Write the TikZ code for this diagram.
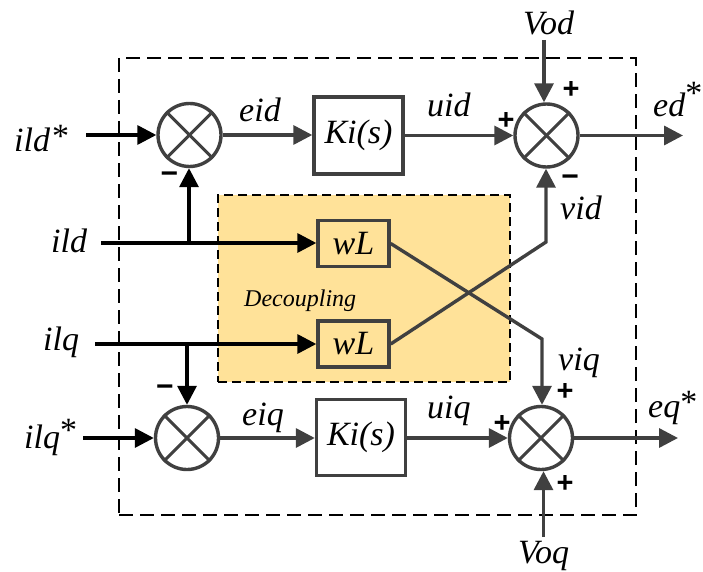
\documentclass[tikz,border=0pt]{standalone}
\usepackage{fontspec}
\setmainfont{Liberation Serif}
\newfontfamily\signfont{Liberation Sans}
\usetikzlibrary{arrows.meta,calc}
\definecolor{dgrey}{HTML}{404040}
\definecolor{yel}{HTML}{FFE299}
\newcommand{\upstar}[2]{\kern#1pt\raisebox{#2pt}{\upshape *}}
\tikzset{
  x=1pt,y=-1pt,
  sumnode/.style={circle,draw=dgrey,line width=3.4pt,minimum size=63pt,inner sep=0pt,fill=white},
  crossline/.style={dgrey,line width=3pt},
  gainbox/.style={rectangle,draw=dgrey,line width=3.4pt,inner sep=0pt,fill=white,font=\fontsize{34}{34}\selectfont\itshape},
  wlbox/.style={rectangle,draw=dgrey,line width=3.4pt,inner sep=0pt,fill=yel,minimum width=71pt,minimum height=46pt,font=\fontsize{34}{34}\selectfont\itshape},
  gline/.style={dgrey,line width=3.4pt,line join=miter,-{Triangle[length=19pt,width=19pt]}},
  kline/.style={black,line width=3.4pt,-{Triangle[length=19pt,width=19pt]}},
  lab/.style={font=\fontsize{34}{34}\selectfont\itshape,inner sep=0pt,text=black,anchor=base west},
  smalllab/.style={font=\fontsize{24}{24}\selectfont\itshape,inner sep=0pt,text=black,anchor=base west},
  signlab/.style={font=\fontsize{29}{29}\selectfont\signfont\bfseries,inner sep=0pt,text=black},
  frame/.style={draw=black,line width=1.5pt,dash pattern=on 14pt off 7pt},
}
\begin{document}
\begin{tikzpicture}
\useasboundingbox (0,0) rectangle (703,572);
\node[frame,minimum width=517pt,minimum height=457pt,inner sep=0pt] (outer) at (377.5,286.5) {};
\node[fill=yel,draw=black,line width=1.5pt,dash pattern=on 9pt off 5pt,minimum width=292pt,minimum height=187pt,inner sep=0pt] (dec) at (364,288.5) {};
\node[smalllab] (dl) at (244,306) {Decoupling};

\node[sumnode] (s1) at (189.5,135) {};
\node[sumnode] (s2) at (546.5,135.5) {};
\node[sumnode] (s3) at (187,438) {};
\node[sumnode] (s4) at (541,438) {};
\foreach \s in {s1,s2,s3,s4}{
  \draw[crossline] (\s.45) -- (\s.225);
  \draw[crossline] (\s.135) -- (\s.315);
}

\node[gainbox,minimum width=89pt,minimum height=77pt] (k1) at (358.5,135.5) {Ki(s)};
\node[gainbox,minimum width=89pt,minimum height=76pt] (k2) at (361,437.5) {Ki(s)};
\node[wlbox] (w1) at (353.5,243.5) {wL};
\node[wlbox] (w2) at (353.5,344) {wL};

\coordinate (ildin) at (101,243);
\coordinate (ilqin) at (95,344);
\coordinate (ildsin) at (86,135);
\coordinate (ilqsin) at (83,438);
\coordinate (vodin) at (544,40);
\coordinate (voqin) at (543.5,537);
\coordinate (edout) at (683,135.5);
\coordinate (eqout) at (678,438);
\coordinate (bd) at (189,243);
\coordinate (bq) at (187,344);
\coordinate (c1) at (542,339);
\coordinate (c2) at (546,242);

\draw[kline] (ildsin) -- (s1.west);
\draw[kline] (ilqsin) -- (s3.west);
\draw[kline] (ildin) -- (w1.west |- ildin);
\draw[kline] (ilqin) -- (w2.west);
\draw[kline] (bd) -- (bd |- s1.south);
\draw[kline] (bq) -- (bq |- s3.north);

\draw[gline] (s1.east) -- (k1.west |- s1.east);
\draw[gline] (s3.east) -- (k2.west |- s3.east);
\draw[gline] (k1.east) -- (s2.west);
\draw[gline] (k2.east |- s4.west) -- (s4.west);
\draw[gline] (s2.east) -- (edout);
\draw[gline] (s4.east) -- (eqout);
\draw[gline] (vodin) -- (vodin |- s2.north);
\draw[gline] (voqin) -- (voqin |- s4.south);
\draw[gline] (w1.east) -- (c1) -- (c1 |- s4.north);
\draw[gline] (w2.east) -- (c2) -- (c2 |- s2.south);

\node[lab] (t1) at (14,152) {ild\upstar{2}{4}};
\node[lab] (t2) at (51,252) {ild};
\node[lab] (t3) at (43,350) {ilq};
\node[lab] (t4) at (24,448) {ilq\upstar{0}{7}};
\node[lab] (t5) at (239,122) {eid};
\node[lab] (t6) at (427,117) {uid};
\node[lab] (t7) at (523,35) {Vod};
\node[lab] (t8) at (653,117) {ed\upstar{0}{12}};
\node[lab] (t9) at (560,219) {vid};
\node[lab] (t10) at (558,370) {viq};
\node[lab] (t11) at (242,425) {eiq};
\node[lab] (t12) at (427,418) {uiq};
\node[lab] (t13) at (648,417) {eq\upstar{0}{4}};
\node[lab] (t14) at (518,563) {Voq};

\node[signlab] (m1) at (169.5,178) {\fontsize{30}{30}\selectfont −};
\node[signlab] (m2) at (570,181) {\fontsize{30}{30}\selectfont −};
\node[signlab] (m3) at (165,391) {\fontsize{30}{30}\selectfont −};
\node[signlab] (p1) at (571,90) {+};
\node[signlab] (p2) at (506,121) {+};
\node[signlab] (p3) at (565,392) {+};
\node[signlab] (p4) at (502,424) {+};
\node[signlab] (p5) at (565,484) {+};
\end{tikzpicture}
\end{document}
